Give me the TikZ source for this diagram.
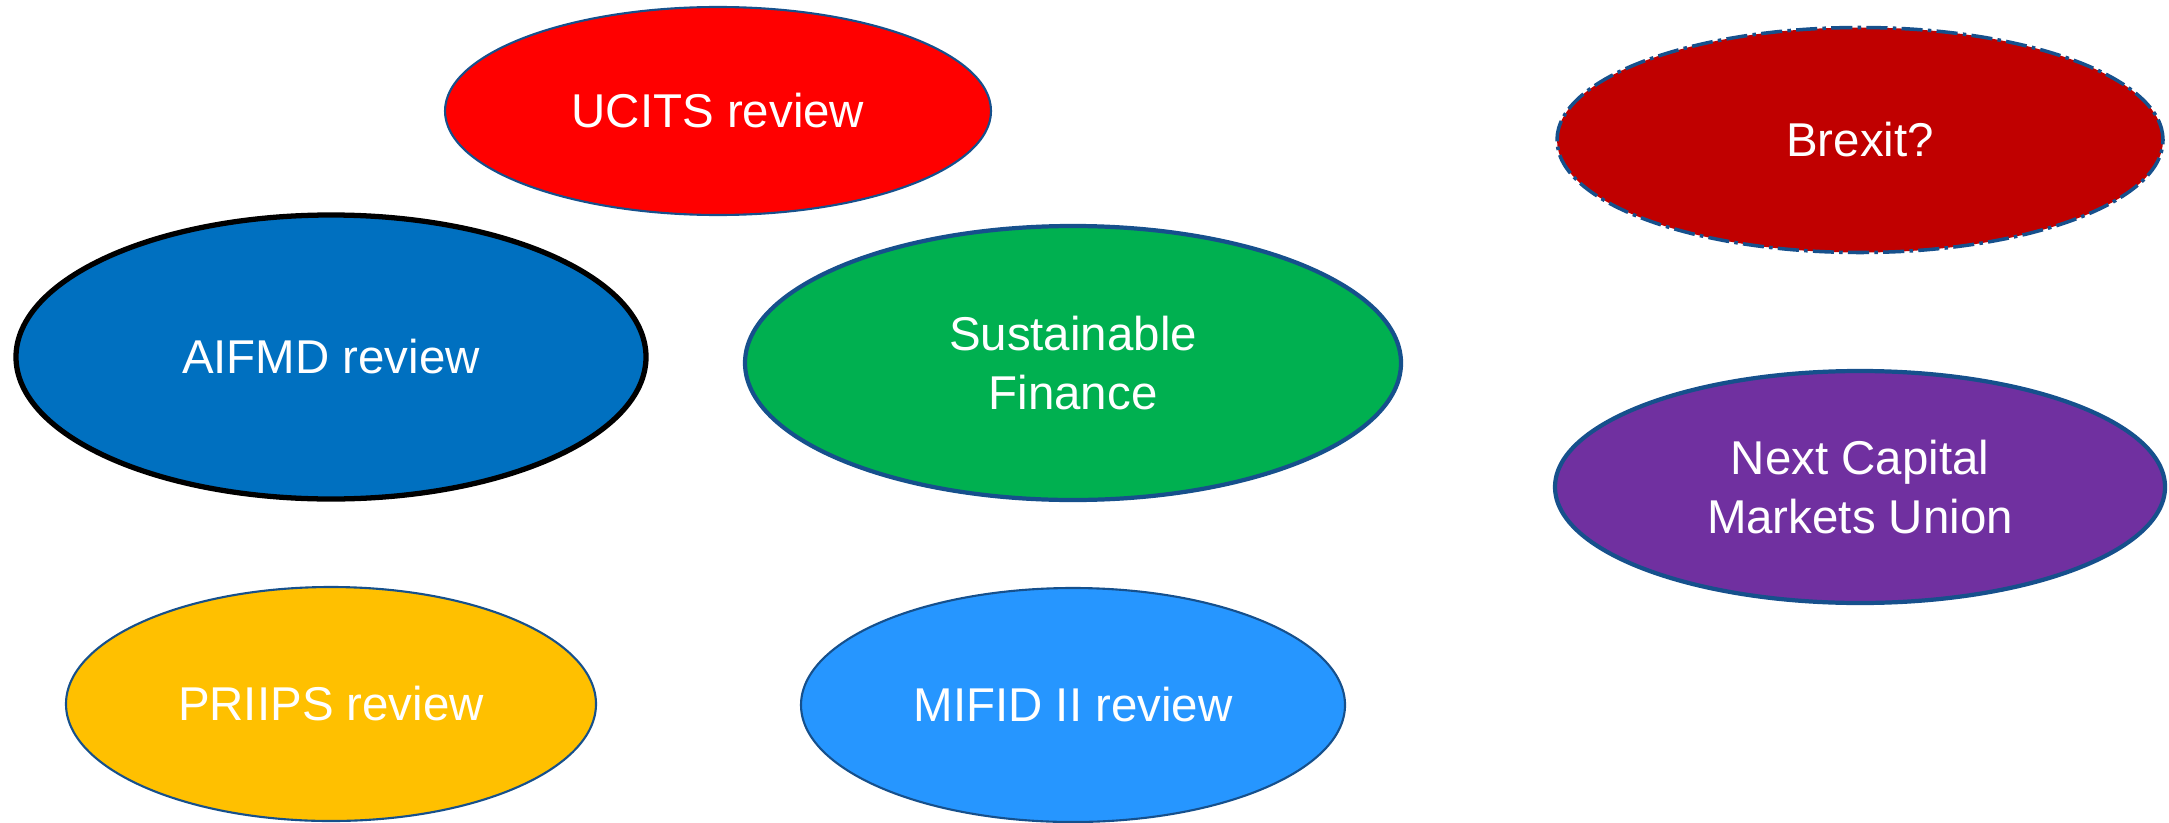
\documentclass[tikz,border=0pt]{standalone}
\usepackage{fontspec}
\setmainfont{Liberation Sans}
\usetikzlibrary{shapes.geometric}

\definecolor{rimblue}{RGB}{22,80,140}
\definecolor{ucitsred}{RGB}{255,0,0}
\definecolor{brexitred}{RGB}{192,0,0}
\definecolor{aifmdblue}{RGB}{0,112,192}
\definecolor{susgreen}{RGB}{0,176,80}
\definecolor{cmupurple}{RGB}{112,48,160}
\definecolor{priipsgold}{RGB}{255,192,0}
\definecolor{mifidblue}{RGB}{38,150,255}

\begin{document}
\begin{tikzpicture}
  [every node/.style={ellipse,inner sep=0pt,text=white,align=center,
     font=\fontsize{13.5}{17}\selectfont},
   bubble/.style={draw=rimblue,line width=0.6pt}]
  \useasboundingbox (0,0) rectangle (21.69,8.22);

  \node[bubble,fill=ucitsred,minimum width=5.46cm,minimum height=2.08cm] (ucits) at (7.18,7.11) {UCITS review};
  \node[bubble,fill=brexitred,line width=1pt,dash pattern=on 6pt off 1.5pt on 1pt off 1.5pt,
        minimum width=6.06cm,minimum height=2.25cm] (brexit) at (18.60,6.82) {Brexit?};
  \node[bubble,draw=black,line width=1.5pt,fill=aifmdblue,minimum width=6.30cm,minimum height=2.84cm] (aifmd) at (3.31,4.65) {AIFMD review};
  \node[bubble,line width=1.2pt,fill=susgreen,minimum width=6.56cm,minimum height=2.74cm] (sustain) at (10.73,4.59) {Sustainable\\Finance};
  \node[bubble,line width=1.2pt,fill=cmupurple,minimum width=6.10cm,minimum height=2.32cm] (cmu) at (18.60,3.35) {Next Capital\\Markets Union};
  \node[bubble,fill=priipsgold,minimum width=5.30cm,minimum height=2.34cm] (priips) at (3.31,1.18) {PRIIPS review};
  \node[bubble,fill=mifidblue,minimum width=5.44cm,minimum height=2.34cm] (mifid) at (10.73,1.17) {MIFID II review};

\end{tikzpicture}
\end{document}
